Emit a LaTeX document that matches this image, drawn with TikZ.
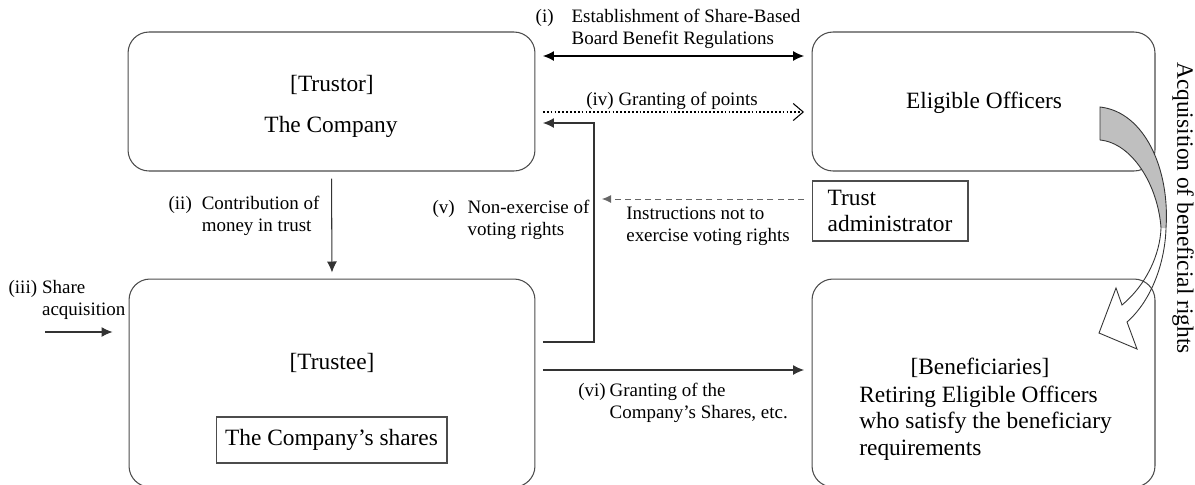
\documentclass[tikz,border=0pt]{standalone}
\usepackage{fontspec}
\setmainfont{Liberation Serif}
\usetikzlibrary{arrows.meta}

\newcommand{\tagtext}[3]{\begin{tabular}{@{}l@{\hspace{#1}}l@{}}#2 & #3\end{tabular}}

\begin{document}
\begin{tikzpicture}[x=0.02cm,y=-0.02cm,
    every node/.style={font=\fontsize{13.3}{15}\selectfont},
    party/.style={draw=black!70,line width=0.6pt,rounded corners=0.42cm,align=center,inner sep=0pt},
    plain/.style={draw=black!70,line width=0.6pt,inner sep=0.12cm},
    note/.style={font=\fontsize{10.8}{12.5}\selectfont,inner sep=0pt},
    link/.style={line width=0.6pt,draw=black!80,shorten <=0.15cm,shorten >=0.15cm},
    >={Latex[length=0.22cm,width=0.2cm]}]
\useasboundingbox (0,0) rectangle (1195,484);
\node[party,minimum width=8.14cm,minimum height=2.78cm] (tor) at (331.5,101.5) {};
\node (torlbl) at (332,85) {[Trustor]};
\node (torname) at (331,127) {The Company};
\node[party,minimum width=6.86cm,minimum height=2.78cm] (off) at (983.5,101.5) {};
\node (offname) at (984,103) {Eligible Officers};
\node[party,minimum width=8.12cm,minimum height=4.16cm] (tee) at (332,383) {};
\node (teelbl) at (332,363) {[Trustee]};
\node[plain,minimum width=4.62cm,minimum height=0.92cm] (sh) at (331.5,440) {The Company’s shares};
\node[party,minimum width=6.86cm,minimum height=4.16cm] (ben) at (983.5,383) {};
\node (benlbl) at (980,368) {[Beneficiaries]};
\node[anchor=west,align=left,inner sep=0pt] (bentxt) at (859,423) {Retiring Eligible Officers\\who satisfy the beneficiary\\requirements};
\node[plain,align=left,minimum width=3.12cm,minimum height=1.2cm] (adm) at (890,211) {Trust\\administrator};
\node[rotate=-90] (acq) at (1183,208) {Acquisition of beneficial rights};

\node[note] (t1) at (668,29) {\tagtext{0.36cm}{(i)}{Establishment of Share-Based\\ & Board Benefit Regulations}};
\node[note] (t4) at (672,101) {(iv) Granting of points};
\node[note] (t2) at (244,216) {\tagtext{0.2cm}{(ii)}{Contribution of\\ & money in trust}};
\node[note] (t5) at (511,220) {\tagtext{0.26cm}{(v)}{Non-exercise of\\ & voting rights}};
\node[note,align=left] (tin) at (708,226) {Instructions not to\\exercise voting rights};
\node[note] (t3) at (67,300) {\tagtext{0.1cm}{(iii)}{Share\\ & acquisition}};
\node[note] (t6) at (683,403) {\tagtext{0.08cm}{(vi)}{Granting of the\\ & Company’s Shares, etc.}};

\coordinate (buy) at (45,332);
\coordinate (bend) at (594,123);
\coordinate (instr) at (602,199);

\draw[link,draw=black,<->] (tor.east |- 0,56) -- (off.west |- 0,56);
\draw[link,draw=black,line width=1.2pt,dash pattern=on 1pt off 1.2pt,-{Straight Barb[length=0.2cm,width=0.34cm,line width=0.6pt]}] (tor.east |- 0,112) -- (off.west |- 0,112);
\draw[link,->,shorten <=0.14cm,shorten >=0.12cm] (tor.south) -- (tee.north);
\draw[link,->,shorten <=0pt,shorten >=0.32cm] (buy) -- (tee.west |- buy);
\draw[link,->] (tee.east |- 0,342) -| (bend) -- (tor.east |- bend);
\draw[link,->] (tee.east |- 0,370) -- (ben.west |- 0,370);
\draw[link,draw=black!60,line width=0.5pt,dash pattern=on 3.4pt off 2.4pt,shorten >=0pt,
  -{Latex[length=0.18cm,width=0.16cm]}] (adm.west |- instr) -- (instr);

\fill[black!25] (1100,107) .. controls (1145,112) and (1170,170) .. (1166,228)
  -- (1161,228) .. controls (1158,185) and (1132,143) .. (1100,140) -- cycle;
\draw[black!80,line width=0.5pt] (1100,140) -- (1100,107) .. controls (1145,112) and (1170,170) .. (1166,228)
  .. controls (1165,262) and (1152,300) .. (1127,322) -- (1137,349) -- (1099,333) -- (1116,288) -- (1122,305)
  .. controls (1146,285) and (1160,255) .. (1161,228) .. controls (1158,185) and (1132,143) .. (1100,140);
\end{tikzpicture}
\end{document}
